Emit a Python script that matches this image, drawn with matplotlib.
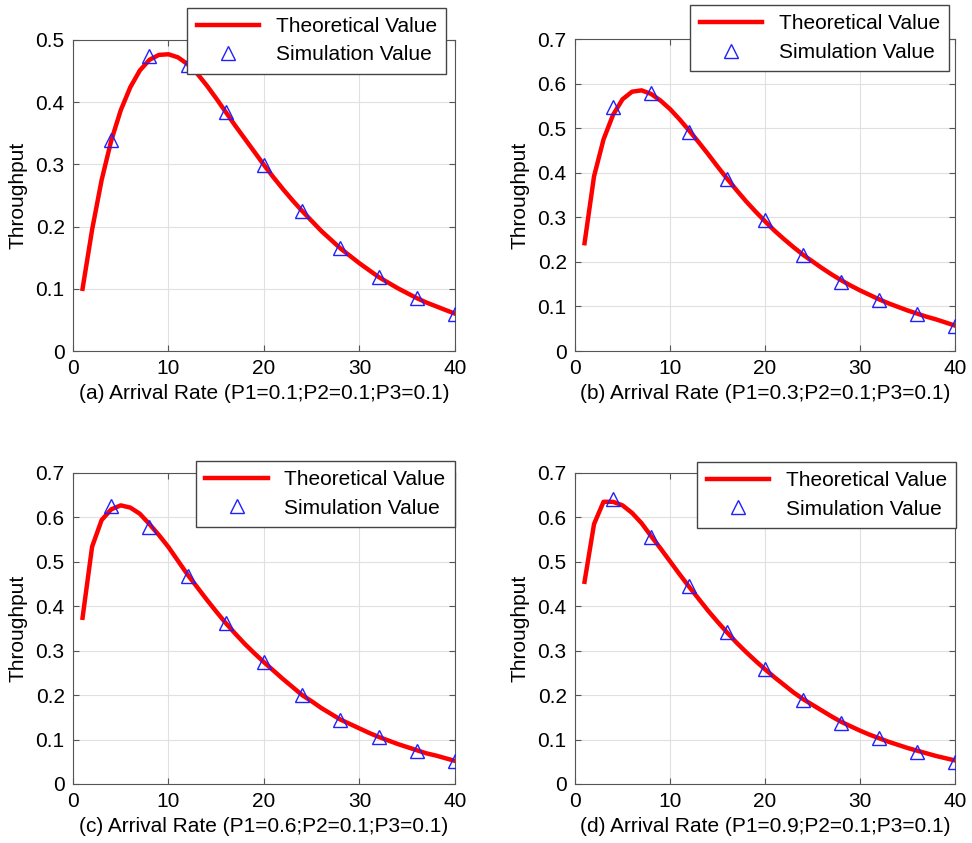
import matplotlib.pyplot as plt
import numpy as np

plt.rcParams['font.family'] = ['Liberation Sans', 'DejaVu Sans']

# arrival rate for the theoretical curves and the simulation points
rate = np.arange(1, 41)
rate_sim = np.arange(4, 41, 4)

theory_a = [0.100, 0.195, 0.275, 0.338, 0.387, 0.424, 0.451, 0.468, 0.476, 0.477,
            0.472, 0.461, 0.446, 0.427, 0.406, 0.384, 0.362, 0.341, 0.320, 0.299,
            0.279, 0.260, 0.242, 0.225, 0.209, 0.193, 0.179, 0.165, 0.153, 0.141,
            0.130, 0.119, 0.110, 0.101, 0.093, 0.085, 0.078, 0.072, 0.066, 0.060]
sim_a = [0.339, 0.474, 0.460, 0.384, 0.299, 0.225, 0.165, 0.119, 0.085, 0.060]

theory_b = [0.242, 0.392, 0.475, 0.530, 0.565, 0.582, 0.585, 0.577, 0.562, 0.543,
            0.520, 0.495, 0.469, 0.442, 0.414, 0.387, 0.361, 0.336, 0.313, 0.291,
            0.270, 0.251, 0.233, 0.216, 0.201, 0.186, 0.172, 0.159, 0.147, 0.136,
            0.126, 0.116, 0.107, 0.099, 0.091, 0.084, 0.077, 0.071, 0.064, 0.057]
sim_b = [0.548, 0.578, 0.491, 0.387, 0.293, 0.216, 0.156, 0.114, 0.082, 0.056]

theory_c = [0.374, 0.534, 0.594, 0.618, 0.627, 0.622, 0.608, 0.585, 0.560, 0.533,
            0.502, 0.471, 0.443, 0.415, 0.388, 0.362, 0.338, 0.315, 0.294, 0.274,
            0.255, 0.236, 0.218, 0.200, 0.186, 0.171, 0.158, 0.145, 0.135, 0.125,
            0.115, 0.106, 0.098, 0.090, 0.083, 0.076, 0.069, 0.064, 0.058, 0.052]
sim_c = [0.625, 0.579, 0.469, 0.363, 0.274, 0.200, 0.145, 0.106, 0.075, 0.052]

theory_d = [0.455, 0.585, 0.635, 0.635, 0.627, 0.610, 0.587, 0.558, 0.530, 0.501,
            0.472, 0.444, 0.417, 0.390, 0.365, 0.341, 0.318, 0.297, 0.277, 0.258,
            0.240, 0.223, 0.206, 0.191, 0.178, 0.165, 0.152, 0.140, 0.130, 0.120,
            0.111, 0.103, 0.095, 0.088, 0.081, 0.075, 0.069, 0.063, 0.058, 0.053]
sim_d = [0.642, 0.556, 0.445, 0.341, 0.258, 0.190, 0.138, 0.103, 0.073, 0.050]

xlabels = ['(a) Arrival Rate (P1=0.1;P2=0.1;P3=0.1)',
           '(b) Arrival Rate (P1=0.3;P2=0.1;P3=0.1)',
           '(c) Arrival Rate (P1=0.6;P2=0.1;P3=0.1)',
           '(d) Arrival Rate (P1=0.9;P2=0.1;P3=0.1)']
ymaxs = [0.5, 0.7, 0.7, 0.7]

theories = [theory_a, theory_b, theory_c, theory_d]
sims = [sim_a, sim_b, sim_c, sim_d]

boxes = [[0.0751, 0.5836, 0.393, 0.369],
         [0.5916, 0.5836, 0.391, 0.370],
         [0.0751, 0.0700, 0.393, 0.369],
         [0.5916, 0.0700, 0.391, 0.369]]
leg_anchor = [(0.977, 1.104), (0.985, 1.109), (1.0, 1.039), (1.003, 1.035)]

fig = plt.figure(figsize=(9.72, 8.43), dpi=100)

for i in range(4):
    ax = fig.add_axes(boxes[i])
    ax.plot(rate, theories[i], color='red', lw=3.2, label='Theoretical Value', zorder=3)
    ax.plot(rate_sim, sims[i], ls='none', marker='^', ms=10.5, mfc='none',
            mec='#2020ff', mew=1.0, label='Simulation Value', zorder=4)
    ax.set_xlim(0, 40)
    ax.set_ylim(0, ymaxs[i])
    ax.set_xticks([0, 10, 20, 30, 40])
    ax.set_yticks(np.arange(0, ymaxs[i] + 0.001, 0.1))
    ax.set_yticklabels(['0'] + ['%.1f' % v for v in np.arange(0.1, ymaxs[i] + 0.001, 0.1)])
    ax.grid(True, color='#e0e0e0', lw=0.8)
    ax.tick_params(direction='in', top=True, right=True, labelsize=15, length=4,
                   color='#555555', pad=6)
    for s in ax.spines.values():
        s.set_color('#555555')
    ax.set_xlabel(xlabels[i], fontsize=15, labelpad=4)
    ax.set_ylabel('Throughput', fontsize=15, labelpad=6)
    leg = ax.legend(loc='upper right', bbox_to_anchor=leg_anchor[i], fontsize=15,
                    fancybox=False, edgecolor='#444444', framealpha=1,
                    handlelength=3.0, handletextpad=0.8, labelspacing=0.45,
                    borderpad=0.45, borderaxespad=0)
    leg.get_frame().set_linewidth(1.0)
    leg.set_zorder(10)

fig.savefig('out.png', dpi=100)
